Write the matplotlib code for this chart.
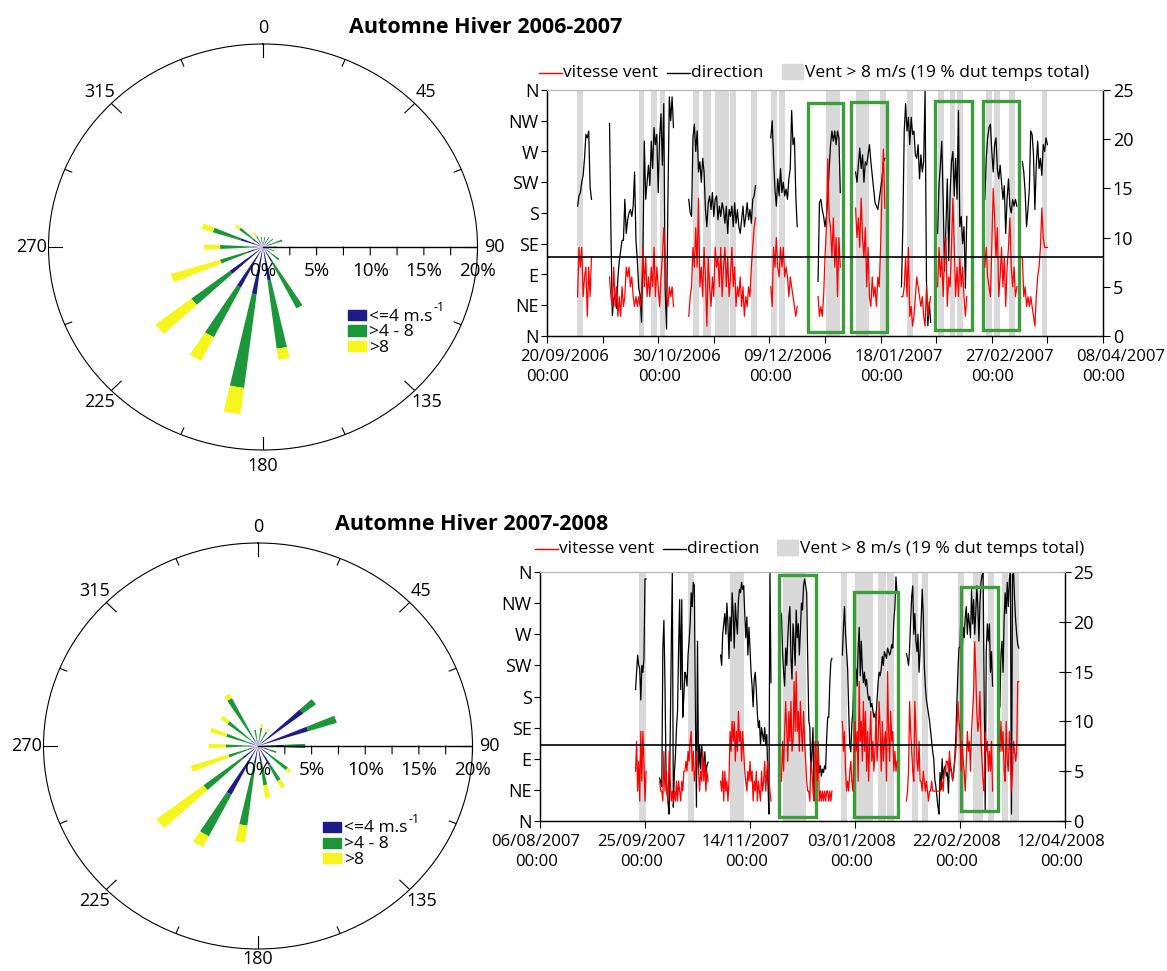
import numpy as np
import datetime as dt
import matplotlib
matplotlib.use("Agg")
import matplotlib.pyplot as plt
import matplotlib.dates as mdates
from matplotlib.patches import Rectangle
from matplotlib.lines import Line2D
from matplotlib.ticker import FixedLocator
from matplotlib.transforms import blended_transform_factory, offset_copy

plt.rcParams['font.family'] = ['Open Sans', 'DejaVu Sans']

W, H = 1167, 971

# ── wind roses: % of time per sector and speed class ─────────────────────
rose_dirs = [10, 30, 50, 70, 90, 110, 130, 150, 170, 190, 210, 230, 250, 270, 290, 310, 330, 350]

r0607_le4 = [0.5, 0.6, 0.6, 0.8, 0.7, 0.6, 0.8, 1.6, 3.3, 4.7, 4.5, 3.9, 1.5, 1.0, 2.2, 1.2, 0.7, 0.6]
r0607_4_8 = [0.5, 0.5, 0.6, 1.1, 0.6, 0.5, 1.1, 5.2, 6.8, 9.3, 5.5, 4.5, 2.7, 3.0, 2.7, 1.6, 0.5, 0.4]
r0607_gt8 = [0.0, 0.0, 0.0, 0.0, 0.0, 0.0, 0.0, 0.0, 1.1, 2.6, 2.6, 4.2, 4.8, 1.5, 1.1, 0.5, 0.5, 0.0]

r0708_le4 = [0.6, 0.8, 5.3, 4.9, 2.4, 1.0, 1.2, 2.1, 1.5, 1.7, 5.4, 1.8, 1.0, 1.0, 0.9, 0.8, 1.0, 0.6]
r0708_4_8 = [1.2, 0.8, 1.5, 2.8, 2.0, 0.8, 2.3, 1.8, 2.4, 6.2, 4.6, 4.6, 1.9, 2.0, 2.2, 2.8, 4.3, 1.0]
r0708_gt8 = [0.4, 0.3, 0.0, 0.0, 0.0, 0.0, 0.4, 0.8, 1.3, 1.7, 1.2, 5.5, 3.7, 1.6, 1.6, 0.8, 0.5, 0.0]

rose_ticks = [0, 5, 10, 15, 20]
speed_labels = ['<=4 m.s', '>4 - 8', '>8']

# ── time series 2006-2007 (days after 20/09/2006, 12 h step) ─────────────
base_0607 = dt.datetime(2006, 9, 20)
seg_start_0607 = [11, 22.5, 51, 80.5, 97.5, 111, 127.5, 140.5, 157.5, 171]
dir_0607 = [
    [190, 205, 210, 225, 235, 260, 295, 290, 300, 218, 200],
    [311, 150, 30, 55, 60, 40, 85, 110, 125, 140, 140, 200, 150, 170, 180, 185, 175, 190, 240, 140,
     110, 70, 60, 20, 120, 285, 200, 225, 250, 220, 285, 245, 305, 280, 295, 210, 290, 325, 250, 340,
     70, 10, 200, 350, 315, 350, 305],
    [200, 180, 175, 290, 310, 270, 300, 240, 255, 225, 260, 240, 185, 160, 195, 205, 185, 210, 175, 200,
     205, 170, 190, 175, 195, 185, 165, 190, 150, 185, 175, 190, 160, 195, 165, 185, 160, 150, 170, 190,
     160, 175, 195, 170, 185, 165, 200, 205, 220],
    [290, 315, 260, 215, 190, 230, 205, 245, 210, 225, 205, 215, 200, 230, 245, 330, 280, 290, 205, 160],
    [80, 195, 200, 185, 175, 160, 175, 200, 245, 280, 300, 285, 300, 280, 300, 290, 210],
    [240, 225, 250, 275, 245, 265, 225, 255, 250, 265, 280, 255, 235, 215, 195, 190, 185, 200, 215, 230,
     255, 260],
    [72, 160, 300, 340, 300, 320, 280, 320, 295, 300, 265, 260, 280, 230, 265, 240, 255, 360, 80, 15,
     50, 20],
    [150, 220, 250, 285, 200, 95, 160, 230, 110, 210, 255, 270, 205, 260, 200, 330, 160, 175, 135, 160,
     70, 175],
    [200, 260, 290, 305, 310, 270, 240, 280, 290, 245, 230, 250, 225, 200, 220, 150, 200, 230, 190, 180,
     200, 190, 200, 190],
    [255, 240, 210, 160, 185, 215, 300, 295, 265, 185, 250, 285, 245, 260, 235, 280, 270, 290, 280],
]
spd_0607 = [
    [4, 9, 7, 9, 4, 6, 7, 2, 7, 4, 8],
    [6, 4, 3, 7, 3, 5, 2, 4, 2, 5, 3, 4, 7, 6, 7, 5, 6, 4, 3, 4,
     3, 4, 3, 4, 9, 5, 8, 4, 6, 4, 7, 5, 9, 4, 7, 5, 3, 6, 8, 11,
     8, 4, 3, 5, 4, 5, 3],
    [2, 4, 5, 9, 7, 11, 7, 14, 5, 7, 4, 9, 6, 1, 8, 5, 3, 6, 4, 9,
     7, 8, 5, 9, 4, 7, 9, 5, 8, 4, 6, 9, 5, 7, 3, 5, 4, 6, 3, 5,
     2, 4, 3, 5, 4, 7, 9, 11, 12],
    [5, 3, 9, 7, 10, 7, 6, 9, 7, 9, 6, 7, 6, 4, 6, 5, 4, 3, 2, 3],
    [4, 2, 3, 2, 4, 8, 11, 18, 12, 11, 8, 12, 7, 10, 4, 10, 7],
    [13, 10, 12, 9, 14, 10, 8, 11, 5, 9, 4, 3, 6, 4, 5, 3, 6, 5, 9, 15, 19, 13],
    [4, 4, 5, 8, 4, 9, 2, 3, 1, 2, 4, 6, 5, 4, 3, 4, 2, 1, 5, 2, 3, 4],
    [5, 9, 6, 8, 4, 8, 10, 3, 6, 5, 9, 14, 9, 4, 7, 4, 8, 5, 7, 4, 2, 4],
    [7, 9, 6, 5, 4, 9, 15, 12, 8, 11, 4, 6, 9, 5, 8, 3, 7, 9, 12, 7, 5, 7, 4, 5],
    [8, 4, 5, 3, 4, 3, 4, 3, 2, 1, 4, 6, 7, 9, 13, 10, 9, 9, 9],
]
gray_0607 = [(10.9, 12.8), (33.0, 35.0), (37.4, 39.4), (40.6, 42.4), (52.4, 54.8), (56.2, 58.9),
             (60.4, 62.8), (63.1, 65.6), (65.8, 68.0), (73.4, 75.4), (80.6, 82.6), (83.6, 85.6),
             (100.4, 105.4), (111.2, 116.0), (119.8, 121.9), (129.6, 131.8), (140.8, 142.8),
             (145.0, 146.8), (147.6, 149.5), (157.9, 160.0), (160.8, 162.9), (166.3, 168.3),
             (177.9, 180.0)]
boxes_0607 = [(93.9, 106.5, 0.4, 23.7), (109.2, 122.4, 0.4, 23.8),
              (139.6, 152.8, 0.6, 23.9), (156.7, 169.9, 0.6, 23.9)]
thr_0607 = 8.0

# ── time series 2007-2008 (days after 06/08/2007, 12 h step) ─────────────
base_0708 = dt.datetime(2007, 8, 6)
seg_start_0708 = [45.5, 57, 86, 115, 144, 174.5, 219]
dir_0708 = [
    [190, 215, 240, 225, 220, 175, 225, 215, 235, 350, 350],
    [62, 55, 50, 250, 290, 200, 75, 40, 25, 10, 120, 250, 360, 20, 70, 95, 135, 160, 250, 320,
     190, 320, 150, 180, 215, 210, 195, 240, 260, 285, 330, 310, 345, 340, 150, 20, 260, 70, 110, 75,
     110, 90, 80, 100, 70, 80, 85],
    [240, 225, 270, 285, 300, 270, 315, 285, 235, 295, 260, 330, 300, 250, 315, 290, 270, 320, 335, 330,
     345, 335, 340, 300, 265, 295, 240, 280, 250, 215, 195, 165, 205, 215, 190, 155, 135, 145, 110, 135,
     125, 115, 135, 110, 125, 60, 10, 360, 200],
    [300, 245, 215, 195, 250, 225, 265, 295, 310, 235, 205, 285, 260, 225, 305, 265, 285, 240, 275, 315,
     305, 340, 350, 340, 330, 230, 145, 135, 70, 100, 135, 30, 60, 100, 50, 90, 70, 80, 65, 75,
     70, 80, 75, 120, 150, 150, 200, 230, 235],
    [240, 280, 310, 270, 245, 220, 160, 110, 100, 140, 160, 215, 210, 220, 195, 250, 280, 210, 260, 220,
     200, 215, 195, 205, 185, 175, 180, 165, 170, 160, 150, 155, 145, 175, 200, 215, 210, 220, 238, 225,
     245, 240, 235, 250, 245, 240, 245, 255, 250, 290, 310, 353, 330],
    [242, 235, 225, 250, 290, 325, 340, 270, 300, 260, 245, 270, 215, 245, 290, 335, 300, 225, 195, 175,
     165, 155, 145, 130, 115, 100, 90, 60, 50, 35, 20, 10, 70, 45, 90, 60, 75, 80, 65, 70,
     40, 90, 80, 70, 60, 70, 90, 120, 170, 215, 250, 252, 310, 240, 280, 265, 295, 310, 270, 300,
     285, 265, 335, 285, 320, 270, 300, 340, 310, 260, 315, 345, 355, 360, 180, 15, 245, 285, 260, 285,
     215, 245, 195],
    [165, 240, 260, 215, 290, 330, 300, 345, 310, 350, 360, 10, 355, 360, 320, 290, 270, 255, 250],
]
spd_0708 = [
    [5, 8, 3, 6, 2, 9, 4, 9, 6, 2, 5],
    [4, 3, 3, 2, 7, 3, 5, 3, 2, 7, 4, 2, 3, 2, 3, 2, 4, 2, 4, 3,
     2, 4, 3, 5, 5, 6, 5, 7, 6, 8, 9, 5, 7, 4, 5, 7, 6, 5, 3, 5,
     4, 7, 4, 6, 3, 5, 4],
    [4, 3, 5, 2, 5, 3, 4, 2, 4, 9, 7, 10, 8, 10, 6, 9, 7, 11, 8, 9,
     6, 9, 7, 5, 4, 3, 5, 4, 6, 4, 5, 2, 4, 3, 5, 2, 4, 3, 2, 5,
     3, 4, 6, 3, 5, 6, 4, 3, 2],
    [4, 8, 5, 9, 12, 9, 6, 11, 8, 12, 7, 8, 14, 9, 15, 9, 11, 7, 12, 9,
     7, 11, 8, 6, 4, 3, 3, 2, 6, 5, 3, 2, 8, 6, 4, 8, 2, 3, 2, 3,
     2, 3, 2, 3, 3, 2, 3, 2, 3],
    [10, 7, 9, 5, 3, 4, 3, 5, 6, 4, 3, 6, 10, 7, 9, 4, 14, 8, 10, 6,
     12, 7, 11, 5, 9, 4, 8, 11, 6, 8, 5, 7, 11, 6, 8, 12, 9, 5, 10, 6,
     8, 9, 4, 15, 9, 6, 11, 8, 9, 5, 7, 5, 6],
    [2, 3, 5, 12, 9, 7, 5, 4, 12, 9, 6, 5, 8, 4, 4, 3, 5, 4, 3, 4,
     3, 2, 3, 3, 4, 3, 3, 3, 3, 3, 3, 3, 3, 4, 4, 3, 5, 5, 6, 6,
     5, 7, 5, 5, 4, 5, 6, 7, 9, 12, 10, 9, 5, 8, 6, 5, 3, 6, 9, 7,
     8, 5, 9, 11, 13, 18, 15, 11, 9, 10, 13, 8, 6, 4, 3, 9, 7, 8, 5, 7,
     5, 8, 3],
    [7, 10, 7, 9, 5, 4, 10, 6, 5, 9, 7, 3, 5, 8, 7, 6, 7, 14, 14],
]
gray_0708 = [(47.3, 50.3), (70.6, 73.3), (90.5, 97.1), (115.6, 126.7), (143.2, 146.0), (150.0, 158.4),
             (161.1, 164.8), (165.1, 168.6), (177.3, 180.1), (182.1, 184.9), (199.2, 201.9),
             (206.3, 211.1), (213.5, 216.2), (219.9, 223.0), (223.8, 228.1)]
boxes_0708 = [(114.0, 131.4, 0.4, 24.7), (149.7, 170.3, 0.4, 23.0), (200.5, 218.2, 1.0, 23.5)]
thr_0708 = 7.6

dir_labels = ['N', 'NE', 'E', 'SE', 'S', 'SW', 'W', 'NW', 'N']

C_BLUE, C_GREEN, C_YELLOW = '#1b1b8a', '#1b9638', '#f6f61c'
C_BOX = '#3d9d3a'
C_GRAY = '#d9d9d9'


def fx(x):
    return x / W


def fy(y):
    return 1 - y / H


fig = plt.figure(figsize=(W / 100, H / 100), dpi=100)
renderer = fig.canvas.get_renderer()


def draw_rose(cx, cy, le4, m48, gt8, leg_x, leg_y, r_180):
    rx, ry = 214.5, 203
    ax = fig.add_axes([fx(cx - rx), fy(cy + ry), 2 * rx / W, 2 * ry / H], projection='polar')
    ax.set_theta_zero_location('N')
    ax.set_theta_direction(-1)
    ax.set_aspect('auto')
    ax.set_ylim(0, 20)
    ax.set_xticks([])
    ax.set_yticks([])
    ax.grid(False)
    ax.spines['polar'].set_linewidth(0.8)

    th = np.deg2rad(rose_dirs)
    w = np.deg2rad(5.5)
    b, g, y = np.array(le4), np.array(m48), np.array(gt8)
    ax.bar(th, b, width=w, color=C_BLUE, linewidth=0)
    ax.bar(th, g, width=w, bottom=b, color=C_GREEN, linewidth=0)
    ax.bar(th, y, width=w, bottom=b + g, color=C_YELLOW, linewidth=0)

    # ticks on the outer circle
    for a in np.arange(0, 360, 22.5):
        r_in = 18.7 if a % 45 == 0 else 19.3
        ax.plot([np.deg2rad(a)] * 2, [r_in, 20], color='k', lw=0.8)
    for a in range(0, 360, 45):
        r_lab = r_180 if a == 180 else 21.55
        ax.text(np.deg2rad(a), r_lab, str(a), ha='center', va='center', fontsize=13)

    # radial scale along 90°
    ax.plot([np.pi / 2, np.pi / 2], [0, 20], color='k', lw=1)
    for r in np.arange(2.5, 20.01, 2.5):
        ax.annotate('', xy=(np.pi / 2, r), xytext=(0, -8), textcoords='offset pixels',
                    arrowprops=dict(arrowstyle='-', lw=0.8, color='k', shrinkA=0, shrinkB=0))
    for r in rose_ticks:
        ax.annotate(f'{r}%', xy=(np.pi / 2, r), xytext=(0, -24), textcoords='offset pixels',
                    ha='center', va='center', fontsize=13.5)

    # speed class legend
    for i, (c, lab) in enumerate(zip([C_BLUE, C_GREEN, C_YELLOW], speed_labels)):
        ybot = leg_y + 9 + i * 15.5
        fig.add_artist(Rectangle((fx(leg_x), fy(ybot)), 18 / W, 10 / H, color=c,
                                 transform=fig.transFigure))
        t = fig.text(fx(leg_x + 21), fy(ybot + 0.5), lab, fontsize=12.5, va='baseline', ha='left')
        if i == 0:
            bb = t.get_window_extent(renderer)
            fig.text(fx(bb.x1 + 1), fy(ybot - 9), '-1', fontsize=9, va='baseline', ha='left')


def draw_series(rect, base, ndays, major, minor, seg_start, dirs, spds, gray, boxes, thr,
                right_dir, dx1, dx2):
    ax = fig.add_axes(rect)
    ax2 = ax.twinx()
    b = mdates.date2num(base)
    for s, e in gray:
        ax.axvspan(b + s, b + e, color=C_GRAY, lw=0, zorder=0)
    for s0, d in zip(seg_start, dirs):
        ax.plot(b + s0 + 0.5 * np.arange(len(d)), d, color='k', lw=0.9)
    for s0, v in zip(seg_start, spds):
        ax2.plot(b + s0 + 0.5 * np.arange(len(v)), v, color='#ff0000', lw=0.9)
    ax2.axhline(thr, color='k', lw=1.2)
    for s, e, y0, y1 in boxes:
        ax2.add_patch(Rectangle((b + s, y0), e - s, y1 - y0, fill=False, ec=C_BOX, lw=2.4))

    ax.set_xlim(b, b + ndays)
    ax.set_ylim(0, 360)
    ax.set_yticks(range(0, 361, 45))
    ax.set_yticklabels(dir_labels)
    ax2.set_ylim(0, 25)
    ax2.set_yticks(range(0, 26, 5))
    ax.xaxis.set_major_locator(FixedLocator(b + np.arange(0, ndays + 1, major)))
    if minor:
        ax.xaxis.set_minor_locator(FixedLocator(b + np.arange(0, ndays + 1, minor)))
    ax.tick_params(axis='x', which='both', direction='out', length=5, width=0.8, labelbottom=False)
    ax.tick_params(axis='y', direction='out', length=4, width=0.8, labelsize=13, pad=2)
    ax2.tick_params(axis='y', direction=right_dir, length=5 if right_dir == 'out' else 8,
                    width=0.8, labelsize=13, pad=2)
    for a in (ax, ax2):
        a.spines['top'].set_color('#b5b5b5')
        a.spines['top'].set_linewidth(0.8)
        for k in ('left', 'right', 'bottom'):
            a.spines[k].set_linewidth(0.9)

    # date labels (two lines, offset as in the original)
    tr = blended_transform_factory(ax.transData, ax.transAxes)
    for k in range(0, ndays + 1, major):
        d = base + dt.timedelta(days=k)
        ax.text(b + k, 0, d.strftime('%d/%m/%Y'), fontsize=12, ha='center', va='center',
                transform=offset_copy(tr, fig=fig, x=dx1, y=-21, units='dots'))
        ax.text(b + k, 0, d.strftime('%H:%M'), fontsize=12, ha='center', va='center',
                transform=offset_copy(tr, fig=fig, x=dx2, y=-41, units='dots'))


def draw_legend(y, x_red, x_black, x_gray):
    fig.add_artist(Line2D([fx(x_red), fx(x_red + 23)], [fy(y - 4)] * 2, color='#ff0000', lw=1,
                          transform=fig.transFigure))
    fig.text(fx(x_red + 24), fy(y), 'vitesse vent', fontsize=12.5, va='baseline')
    fig.add_artist(Line2D([fx(x_black), fx(x_black + 23)], [fy(y - 4)] * 2, color='k', lw=1,
                          transform=fig.transFigure))
    fig.text(fx(x_black + 24), fy(y), 'direction', fontsize=12.5, va='baseline')
    fig.add_artist(Rectangle((fx(x_gray), fy(y + 2)), 21 / W, 15 / H, color=C_GRAY,
                             transform=fig.transFigure))
    fig.text(fx(x_gray + 23), fy(y), 'Vent > 8 m/s (19 % dut temps total)', fontsize=12.5,
             va='baseline')


# ── top block: 2006-2007 ───────────────────────────────────────────────────
draw_rose(263, 247, r0607_le4, r0607_4_8, r0607_gt8, 348, 311, 21.55)
fig.text(fx(486), fy(33), 'Automne Hiver 2006-2007', fontsize=15.5, weight='bold', ha='center',
         va='baseline')
draw_series([fx(547), fy(336), 556 / W, 246 / H], base_0607, 200, 40, 20,
            seg_start_0607, dir_0607, spd_0607, gray_0607, boxes_0607, thr_0607, 'out', 18, 1)
draw_legend(77, 539, 667, 782)

# ── bottom block: 2007-2008 ────────────────────────────────────────────────
draw_rose(258, 746, r0708_le4, r0708_4_8, r0708_gt8, 323, 823, 20.95)
fig.text(fx(472), fy(530), 'Automne Hiver 2007-2008', fontsize=15.5, weight='bold', ha='center',
         va='baseline')
draw_series([fx(540), fy(821), 525 / W, 249 / H], base_0708, 250, 50, None,
            seg_start_0708, dir_0708, spd_0708, gray_0708, boxes_0708, thr_0708, 'inout', -4, -3)
draw_legend(553, 535, 663, 777)

fig.savefig('out.png', dpi=100)
